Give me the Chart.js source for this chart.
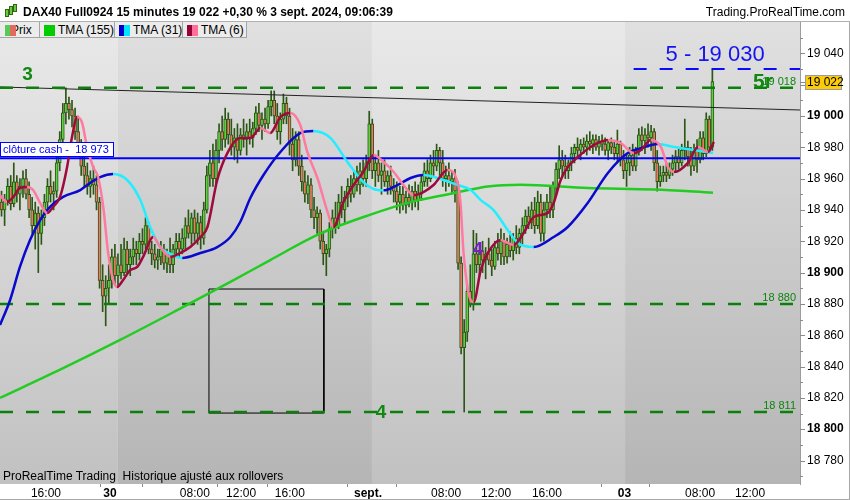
<!DOCTYPE html>
<html>
<head>
<meta charset="utf-8">
<script src="https://cdn.jsdelivr.net/npm/chart.js@4.4.1/dist/chart.umd.min.js"></script>
<style>
  body { margin: 0; background: #fff; font-family: Arial, "Liberation Sans", sans-serif; }
  #cadre { position: relative; width: 850px; height: 500px; overflow: hidden; }
  #graphique { position: absolute; left: 0; top: 0; }
  #entete { position: absolute; left: 0; top: 0; width: 850px; height: 21px; background: #fff;
            border-bottom: 1px solid #b0b0b0; font-size: 12px; line-height: 24px; }
  #titre { position: absolute; left: 23px; top: 0; font-weight: bold; color: #000; white-space: nowrap; }
  #site { position: absolute; right: 5px; top: 0; color: #000; }
  #icone span { position: absolute; width: 2px; background: #66cc44; border: 1px solid #336611; }
  .case { position: absolute; top: 22px; height: 15px; background: #ececec; border-right: 1px solid #a4a4a4;
          border-bottom: 1px solid #a4a4a4; font-size: 12px; line-height: 16px; color: #000;
          white-space: nowrap; overflow: hidden; }
  .case .nom { position: absolute; top: 0; }
  .case .pastille { position: absolute; top: 3px; width: 11px; height: 11px; }
  #source { position: absolute; left: 3px; top: 469px; font-size: 12px; line-height: 14px; color: #000; white-space: nowrap; }
</style>
</head>
<body>
<div id="cadre">
  <canvas id="graphique" width="850" height="500"></canvas>
  <div id="entete">
    <div id="icone">
      <span style="left:5px;top:9px;height:6px"></span>
      <span style="left:9px;top:6px;height:7px"></span>
      <span style="left:13px;top:4px;height:6px"></span>
    </div>
    <div id="titre">DAX40 Full0924 15 minutes 19 022 +0,30 % 3 sept. 2024, 09:06:39</div>
    <div id="site">Trading.ProRealTime.com</div>
  </div>
  <div class="case" style="left:0;width:39px">
    <span class="nom" style="left:11px">Prix</span>
    <span class="pastille" style="left:5px;background:linear-gradient(90deg,#55cc55 50%,#e36a5e 50%)"></span>
  </div>
  <div class="case" style="left:40px;width:74px">
    <span class="pastille" style="left:4px;background:#00cc00"></span>
    <span class="nom" style="left:18px">TMA (155)</span>
  </div>
  <div class="case" style="left:115px;width:67px">
    <span class="pastille" style="left:4px;background:linear-gradient(90deg,#0000cc 50%,#00e5ff 50%)"></span>
    <span class="nom" style="left:18px">TMA (31)</span>
  </div>
  <div class="case" style="left:183px;width:63px">
    <span class="pastille" style="left:4px;background:linear-gradient(90deg,#990033 50%,#ff6f9a 50%)"></span>
    <span class="nom" style="left:18px">TMA (6)</span>
  </div>
  <div id="source">ProRealTime Trading&nbsp; Historique ajusté aux rollovers</div>
</div>

<script>
// Bougies 15 minutes du DAX40
const ouvertures = [
  18945,18940,18946,18955,18944,18958,18950,18955,18960,18950,
  18940,18930,18938,18925,18935,18945,18955,18950,18952,18970,
  18985,19002,19008,19004,19000,18990,18980,18968,18962,18955,
  18960,18956,18945,18895,18885,18890,18895,18910,18898,18905,
  18900,18915,18905,18910,18915,18912,18920,18918,18930,18915,
  18912,18908,18910,18915,18906,18912,18905,18915,18920,18915,
  18922,18930,18925,18935,18925,18932,18922,18940,18962,18970,
  18960,18978,18990,18985,18998,18988,18980,18986,18978,18988,
  18985,18990,18986,18992,19002,18994,18998,18995,19006,19010,
  19000,18990,18998,19008,19000,18982,18972,18985,18968,18958,
  18950,18956,18940,18935,18938,18920,18912,18915,18928,18935,
  18930,18945,18940,18948,18955,18950,18960,18956,18965,18960,
  18970,18995,18965,18970,18962,18965,18958,18962,18955,18952,
  18945,18950,18943,18948,18945,18952,18946,18950,18958,18965,
  18960,18970,18968,18978,18970,18960,18962,18958,18960,18952,
  18906,18852,18862,18888,18880,18912,18905,18914,18908,18912,
  18908,18904,18916,18912,18920,18910,18918,18914,18922,18916,
  18925,18930,18936,18932,18940,18930,18945,18925,18940,18945,
  18940,18955,18966,18972,18968,18965,18970,18976,18980,18978,
  18982,18980,18984,18982,18985,18980,18984,18982,18978,18983,
  18980,18976,18982,18972,18965,18970,18975,18968,18978,18988,
  18984,18988,18986,18990,18970,18958,18962,18964,18962,18966,
  18970,18974,18970,18978,18980,18974,18968,18978,18972,18986,
  18976,18998,18980
];
const plusHauts = [
  18952,18950,18960,18962,18970,18962,18960,18965,18966,18958,
  18948,18945,18942,18940,18950,18960,18965,18958,18975,18990,
  19008,19018,19012,19010,19005,19000,18985,18975,18970,18965,
  18968,18962,18948,18905,18898,18905,18915,18918,18912,18918,
  18922,18920,18915,18922,18920,18925,18928,18935,18932,18920,
  18918,18915,18920,18918,18915,18922,18918,18925,18925,18928,
  18935,18940,18938,18940,18938,18936,18945,18968,18978,18982,
  18985,18995,19000,19005,19002,18998,18992,18995,18992,18998,
  18995,18998,18996,19006,19008,19002,19005,19010,19016,19016,
  19008,19002,19014,19012,19005,18992,18990,18990,18975,18965,
  18962,18960,18948,18942,18940,18925,18918,18932,18940,18945,
  18950,18955,18952,18960,18962,18965,18968,18970,18972,18975,
  19003,18998,18975,18978,18970,18972,18965,18968,18960,18958,
  18955,18955,18952,18956,18955,18958,18956,18962,18970,18972,
  18975,18978,18982,18980,18978,18968,18970,18965,18966,18958,
  18910,18870,18892,18905,18927,18925,18918,18920,18916,18922,
  18915,18920,18925,18928,18925,18922,18926,18925,18930,18928,
  18935,18940,18942,18945,18948,18952,18950,18945,18950,18955,
  18958,18970,18981,18978,18975,18972,18980,18982,18986,18985,
  18986,18988,18990,18988,18988,18987,18988,18986,18985,18986,
  18984,18991,18984,18978,18975,18980,18982,18980,18992,18993,
  18992,18995,18994,18992,18978,18968,18968,18970,18970,18975,
  18978,18980,18982,18998,18984,18980,18982,18985,18990,18990,
  19002,19000,19030
];
const plusBas = [
  18936,18930,18943,18940,18942,18945,18940,18948,18947,18935,
  18925,18915,18900,18918,18930,18940,18945,18940,18948,18965,
  18980,18995,18998,18993,18985,18975,18962,18955,18950,18948,
  18950,18940,18890,18875,18866,18880,18890,18892,18892,18896,
  18898,18900,18898,18905,18905,18908,18912,18915,18912,18905,
  18903,18902,18905,18902,18900,18900,18900,18910,18910,18912,
  18915,18922,18918,18920,18918,18915,18918,18938,18955,18955,
  18955,18970,18978,18980,18982,18975,18972,18970,18975,18980,
  18975,18982,18980,18988,18990,18985,18990,18992,19000,18995,
  18985,18982,18995,18995,18975,18965,18968,18962,18952,18945,
  18944,18935,18928,18925,18915,18905,18898,18910,18922,18925,
  18928,18935,18932,18942,18945,18948,18952,18950,18955,18955,
  18965,18960,18955,18958,18950,18955,18950,18950,18945,18940,
  18938,18940,18938,18942,18940,18942,18940,18946,18955,18955,
  18958,18962,18965,18962,18955,18952,18955,18950,18945,18902,
  18848,18811,18856,18878,18876,18900,18898,18900,18896,18905,
  18898,18902,18908,18905,18905,18906,18910,18908,18912,18912,
  18918,18925,18928,18928,18925,18928,18920,18920,18935,18935,
  18935,18950,18960,18962,18960,18960,18965,18970,18974,18972,
  18976,18975,18978,18976,18978,18975,18978,18975,18972,18976,
  18972,18970,18968,18960,18955,18962,18965,18965,18975,18978,
  18976,18980,18978,18965,18952,18955,18958,18958,18960,18962,
  18964,18966,18968,18972,18968,18962,18965,18964,18970,18972,
  18974,18978,18978
];
const clotures = [
  18940,18946,18955,18944,18958,18950,18955,18960,18950,18940,
  18930,18938,18925,18935,18945,18955,18950,18952,18970,18985,
  19002,19008,19004,19000,18990,18980,18968,18962,18955,18960,
  18956,18945,18895,18885,18890,18895,18910,18898,18905,18900,
  18915,18905,18910,18915,18912,18920,18918,18930,18915,18912,
  18908,18910,18915,18906,18912,18905,18915,18920,18915,18922,
  18930,18925,18935,18925,18932,18922,18940,18962,18970,18960,
  18978,18990,18985,18998,18988,18980,18986,18978,18988,18985,
  18990,18986,18992,19002,18994,18998,18995,19006,19010,19000,
  18990,18998,19008,19000,18982,18972,18985,18968,18958,18950,
  18956,18940,18935,18938,18920,18912,18915,18928,18935,18930,
  18945,18940,18948,18955,18950,18960,18956,18965,18960,18970,
  18995,18965,18970,18962,18965,18958,18962,18955,18952,18945,
  18950,18943,18948,18945,18952,18946,18950,18958,18965,18960,
  18970,18968,18978,18970,18960,18962,18958,18960,18952,18906,
  18852,18862,18888,18880,18912,18905,18914,18908,18912,18908,
  18904,18916,18912,18920,18910,18918,18914,18922,18916,18925,
  18930,18936,18932,18940,18930,18945,18925,18940,18945,18940,
  18955,18966,18972,18968,18965,18970,18976,18980,18978,18982,
  18980,18984,18982,18985,18980,18984,18982,18978,18983,18980,
  18976,18982,18972,18965,18970,18975,18968,18978,18988,18984,
  18988,18986,18990,18970,18958,18962,18964,18962,18966,18970,
  18974,18970,18978,18980,18974,18968,18978,18972,18986,18976,
  18998,18980,19022
];

// Moyennes mobiles triangulaires (abscisse = n° de bougie)
const tma155Barres  = [-0.5, 19.1, 38.7, 58.3, 74.7, 87.7, 104.1, 120.4, 133.5, 143.3, 153.1, 158.7, 169.4, 191.3, 212.9, 232.2];
const tma155Valeurs = [18820, 18838, 18857, 18877, 18894, 18908, 18925, 18937, 18945, 18949, 18953, 18955, 18956, 18954, 18953, 18951];

const tma31Barres = [-0.5, 2.8, 6.0, 9.3, 12.6, 15.8, 20.1, 25.7, 28.9, 32.2, 36.4, 41.0, 45.3, 48.5, 51.8, 56.0, 59.0,
  64.9, 70.4, 74.7, 77.9, 81.2, 85.5, 91.0, 97.5, 101.8, 107.4, 112.9, 118.1, 122.7, 124.7, 129.2, 133.5, 137.7,
  142.3, 148.9, 153.1, 156.4, 160.6, 165.2, 168.5, 173.7, 180.2, 184.8, 191.3, 197.9, 204.4, 208.7, 214.2, 219.5, 226.0, 232.2];
const tma31Valeurs = [18866.5, 18882.5, 18903.6, 18920.8, 18933.5, 18941.9, 18948.3, 18952.7, 18957.2, 18961.0, 18962.9,
  18959.1, 18946.3, 18929.1, 18916.3, 18911.2, 18909.3, 18912.5, 18916.3, 18922.7, 18932.3, 18947.6, 18962.3, 18977.0,
  18989.1, 18990.4, 18985.9, 18970.6, 18957.8, 18952.7, 18952.5, 18955.9, 18960.4, 18962.3, 18960.4, 18955.9, 18952.7,
  18946.3, 18939.9, 18927.2, 18918.9, 18916.3, 18922.7, 18929.1, 18944.4, 18963.6, 18976.3, 18979.5, 18982.1, 18980.2,
  18978.3, 18976.3];

const tma6Barres = [-0.5, 1.8, 3.8, 6.0, 8.3, 10.3, 12.6, 14.9, 16.8, 19.1, 21.4, 23.0, 24.7, 26.3, 27.9, 29.9, 31.5,
  33.2, 34.8, 36.4, 37.7, 39.7, 42.0, 44.3, 46.2, 49.5, 51.8, 55.1, 58.3, 61.6, 64.9, 67.2, 70.4, 73.7, 77.9, 81.2,
  84.5, 87.7, 91.0, 94.3, 97.5, 99.8, 103.1, 106.4, 108.3, 111.6, 114.9, 118.1, 121.4, 124.7, 128.0, 131.2, 134.5,
  137.7, 141.0, 145.6, 148.9, 149.8, 150.8, 153.1, 154.1, 156.4, 158.7, 162.9, 165.2, 167.2, 170.4, 173.7, 178.3,
  180.2, 182.5, 184.8, 188.1, 192.3, 197.9, 202.1, 206.4, 208.7, 211.9, 215.2, 217.5, 219.5, 224.0, 227.3, 230.6, 232.5];
const tma6Valeurs = [18949.5, 18945.0, 18948.2, 18954.0, 18954.6, 18952.7, 18944.4, 18938.0, 18941.9, 18948.3, 18967.4,
  18986.6, 18999.3, 18995.5, 18980.2, 18967.4, 18961.0, 18941.9, 18912.5, 18895.3, 18890.8, 18895.3, 18901.6, 18903.6,
  18910.0, 18922.7, 18916.3, 18910.0, 18912.5, 18916.3, 18922.7, 18929.1, 18959.1, 18976.3, 18985.9, 18985.9, 18992.3,
  18989.1, 18999.3, 19001.9, 18994.2, 18977.0, 18960.4, 18938.7, 18929.1, 18945.1, 18955.9, 18964.2, 18975.1, 18970.6,
  18964.2, 18955.9, 18949.5, 18951.4, 18955.9, 18965.5, 18957.2, 18944.4, 18912.5, 18882.5, 18881.2, 18901.6, 18912.5,
  18920.8, 18918.9, 18917.6, 18925.3, 18935.5, 18938.1, 18944.4, 18959.1, 18967.4, 18973.8, 18980.2, 18984.6, 18982.7,
  18976.3, 18978.3, 18984.6, 18980.2, 18967.4, 18964.2, 18970.0, 18980.2, 18977.0, 18983.4];

// Niveaux tracés
const niveauxVerts = [19018, 18880, 18811];
const etiquettesNiveaux = ['19 018', '18 880', '18 811'];
const clotureCash = 18973;
const objectif5 = 19030;
const oblique = [19018.5, 19003.8];         // valeurs au bord gauche et au bord droit
const rectangle = [67.7, 105.2, 18810.3, 18889.5]; // barre début, barre fin, bas, haut

// Axes
const positionsHeures = [14.5, 35.4, 63.1, 78.2, 94.1, 119.6, 145.1, 161.4, 178.0, 203.3, 228.0, 244.3];
const etiquettesHeures = ['16:00', '30', '08:00', '12:00', '16:00', 'sept.', '08:00', '12:00', '16:00', '03', '08:00', '12:00'];
const debutsJours = [38.0, 120.9, 203.5];
const graduationsY = [18780, 18800, 18820, 18840, 18860, 18880, 18900, 18920, 18940, 18960, 18980, 19000, 19040];
const petitsTraitsX = [32.2, 45.9, 70.4, 86.8, 112.9, 128.6, 195.6, 211.3];

const X_MIN = -0.5, X_MAX = 260.6;
const VERT_HAUSSE = '#5fd045', ROUGE_BAISSE = '#ee7a66', CONTOUR = '#2c5614';

function formatPrix(v) {
  return String(Math.round(v)).replace(/\B(?=(\d{3})+(?!\d))/g, ' ');
}

const indices = clotures.map((_, i) => i);

// Fonction pour une moyenne mobile bicolore (hausse / baisse)
function ligneMM(barres, valeurs, hausse, baisse, ordre) {
  return {
    type: 'line',
    data: barres.map((b, i) => ({ x: b, y: valeurs[i] })),
    borderColor: hausse,
    borderWidth: 2.5,
    pointRadius: 0,
    cubicInterpolationMode: 'monotone',
    segment: {
      borderColor: c => (c.p1.parsed.y >= c.p0.parsed.y ? hausse : baisse)
    },
    order: ordre
  };
}

function ligneH(x0, x1, v0, v1, couleur, largeur, tirets, ordre) {
  return {
    type: 'line',
    data: [{ x: x0, y: v0 }, { x: x1, y: v1 }],
    borderColor: couleur,
    borderWidth: largeur,
    borderDash: tirets,
    pointRadius: 0,
    tension: 0,
    order: ordre
  };
}

// Fond gris dégradé, un ton par journée
const fondJours = {
  id: 'fondJours',
  beforeDraw(chart) {
    const { ctx, chartArea: a, scales: { x } } = chart;
    const bornes = [X_MIN, ...debutsJours, X_MAX];
    ctx.save();
    for (let k = 0; k < bornes.length - 1; k++) {
      const x0 = x.getPixelForValue(bornes[k]);
      const x1 = x.getPixelForValue(bornes[k + 1]);
      const g = ctx.createLinearGradient(0, a.top, 0, a.bottom);
      if (k % 2 === 0) { g.addColorStop(0, '#e9e9e9'); g.addColorStop(1, '#c1c1c1'); }
      else { g.addColorStop(0, '#e0e0e0'); g.addColorStop(1, '#b5b5b5'); }
      ctx.fillStyle = g;
      ctx.fillRect(x0, a.top, x1 - x0, a.bottom - a.top);
    }
    ctx.restore();
  }
};

// Textes et repères posés sur le graphique
const reperes = {
  id: 'reperes',
  afterDatasetsDraw(chart) {
    const { ctx, chartArea: a, scales: { x, y } } = chart;
    ctx.save();

    // étiquettes des niveaux verts
    ctx.font = '11px Arial, "Liberation Sans"';
    ctx.fillStyle = '#0c860c';
    ctx.textAlign = 'right';
    ctx.textBaseline = 'alphabetic';
    niveauxVerts.forEach((v, i) => ctx.fillText(etiquettesNiveaux[i], a.right - 4, y.getPixelForValue(v) - 3));

    // comptage des vagues
    ctx.textAlign = 'center';
    ctx.textBaseline = 'middle';
    ctx.font = 'bold 19px Arial, "Liberation Sans"';
    ctx.fillStyle = '#118811';
    ctx.fillText('3', x.getPixelForValue(8.5), y.getPixelForValue(19026.5));
    ctx.fillText('4', x.getPixelForValue(123.9), y.getPixelForValue(18810.3));
    ctx.font = 'bold 21px Arial, "Liberation Sans"';
    ctx.fillText('5r', x.getPixelForValue(248.5), y.getPixelForValue(19021.7));
    ctx.font = 'bold 18px Arial, "Liberation Sans"';
    ctx.fillStyle = '#7a1ec8';
    ctx.fillText('4', x.getPixelForValue(155.5), y.getPixelForValue(18914.4));

    // objectif 5
    ctx.font = '22px Arial, "Liberation Sans"';
    ctx.fillStyle = '#1414f0';
    ctx.fillText('5 - ' + formatPrix(objectif5), x.getPixelForValue(232.9), y.getPixelForValue(19039));

    // cadre « clôture cash »
    const yc = Math.round(y.getPixelForValue(clotureCash));
    ctx.fillStyle = '#fff';
    ctx.fillRect(0, yc - 15, 113, 14);
    ctx.strokeStyle = '#0000ff';
    ctx.lineWidth = 1;
    ctx.strokeRect(0.5, yc - 15.5, 113, 14);
    ctx.font = '11px Arial, "Liberation Sans"';
    ctx.fillStyle = '#0000ff';
    ctx.textAlign = 'left';
    ctx.fillText('clôture cash -  ' + formatPrix(clotureCash), 3, yc - 8);
    ctx.restore();
  },
  afterDraw(chart) {
    const { ctx, chartArea: a, scales: { x, y } } = chart;
    ctx.save();
    ctx.strokeStyle = '#8a8a8a';
    ctx.lineWidth = 1;
    // petits traits de l'axe des prix
    for (let v = 18770; v <= 19050; v += 10) {
      const py = Math.round(y.getPixelForValue(v)) + 0.5;
      const l = v % 20 === 0 ? 5 : 3;
      ctx.beginPath(); ctx.moveTo(a.right, py); ctx.lineTo(a.right + l, py); ctx.stroke();
    }
    // petits traits de l'axe du temps
    petitsTraitsX.forEach(b => {
      const px = Math.round(x.getPixelForValue(b)) + 0.5;
      ctx.beginPath(); ctx.moveTo(px, a.bottom); ctx.lineTo(px, a.bottom + 3); ctx.stroke();
    });
    // dernier cours
    const dernier = clotures[clotures.length - 1];
    const yd = Math.round(y.getPixelForValue(dernier));
    ctx.beginPath(); ctx.moveTo(a.right, yd + 0.5); ctx.lineTo(a.right + 5, yd + 0.5); ctx.stroke();
    ctx.fillStyle = '#fccc0a';
    ctx.fillRect(a.right + 5, yd - 7, 36, 14);
    ctx.strokeStyle = '#9a9a9a';
    ctx.strokeRect(a.right + 5.5, yd - 6.5, 36, 14);
    ctx.fillStyle = '#000';
    ctx.font = '12px Arial, "Liberation Sans"';
    ctx.textBaseline = 'middle';
    ctx.fillText(formatPrix(dernier), a.right + 7, yd + 1);
    // bordures extérieures
    ctx.strokeStyle = '#a8a8a8';
    ctx.beginPath(); ctx.moveTo(0, 499.5); ctx.lineTo(850, 499.5); ctx.stroke();
    ctx.beginPath(); ctx.moveTo(849.5, 22); ctx.lineTo(849.5, 500); ctx.stroke();
    ctx.restore();
  }
};

Chart.defaults.font.family = 'Arial, "Liberation Sans", sans-serif';
Chart.defaults.font.size = 12;
Chart.defaults.color = '#000';

const ctx = document.getElementById('graphique').getContext('2d');
window.myChart = new Chart(ctx, {
  type: 'bar',
  data: {
    datasets: [
      // mèches
      {
        data: indices.map(i => ({ x: i, y: [plusBas[i], plusHauts[i]] })),
        backgroundColor: CONTOUR,
        barThickness: 1,
        grouped: false,
        order: 20
      },
      // corps
      {
        data: indices.map(i => ({ x: i, y: [ouvertures[i], clotures[i]] })),
        backgroundColor: indices.map(i => (clotures[i] >= ouvertures[i] ? VERT_HAUSSE : ROUGE_BAISSE)),
        borderColor: CONTOUR,
        borderWidth: 1,
        borderSkipped: false,
        barThickness: 3,
        grouped: false,
        order: 19
      },
      // rectangle
      {
        type: 'line',
        data: [
          { x: rectangle[0], y: rectangle[3] }, { x: rectangle[1], y: rectangle[3] },
          { x: rectangle[1], y: rectangle[2] }, { x: rectangle[0], y: rectangle[2] },
          { x: rectangle[0], y: rectangle[3] }
        ],
        borderColor: '#000',
        borderWidth: 1,
        pointRadius: 0,
        tension: 0,
        order: 15
      },
      ligneH(X_MIN, X_MAX, oblique[0], oblique[1], '#222', 1, [], 14),
      ligneH(X_MIN, X_MAX, niveauxVerts[0], niveauxVerts[0], '#0c800c', 2.5, [13, 13], 13),
      ligneH(X_MIN, X_MAX, niveauxVerts[1], niveauxVerts[1], '#0c800c', 2.5, [13, 13], 13),
      ligneH(X_MIN, X_MAX, niveauxVerts[2], niveauxVerts[2], '#0c800c', 2.5, [13, 13], 13),
      ligneH(X_MIN, X_MAX, clotureCash, clotureCash, '#0000ff', 2, [], 12),
      ligneH(206.3, X_MAX, objectif5, objectif5, '#0a0aff', 2, [13, 13], 12),
      ligneMM(tma155Barres, tma155Valeurs, '#22cc22', '#22cc22', 5),
      ligneMM(tma31Barres, tma31Valeurs, '#0a0acc', '#22eeff', 4),
      ligneMM(tma6Barres, tma6Valeurs, '#9e0a3c', '#ff7aa0', 3)
    ]
  },
  options: {
    responsive: false,
    animation: false,
    layout: { padding: { top: 22, left: 0, right: 0, bottom: 0 } },
    plugins: { legend: { display: false }, tooltip: { enabled: false } },
    scales: {
      x: {
        type: 'linear',
        min: X_MIN,
        max: X_MAX,
        offset: false,
        grid: { display: false, drawTicks: false },
        border: { display: false },
        afterBuildTicks: s => { s.ticks = positionsHeures.map(v => ({ value: v })); },
        afterFit: s => { s.height = 16; },
        ticks: {
          autoSkip: false,
          maxRotation: 0,
          padding: 2,
          color: '#000',
          font: c => ({ size: 12, weight: etiquettesHeures[c.index] && etiquettesHeures[c.index].includes(':') ? 'normal' : 'bold' }),
          callback: (v, i) => etiquettesHeures[i]
        }
      },
      y: {
        position: 'right',
        min: 18765,
        max: 19060,
        grid: { display: false, drawTicks: false },
        border: { display: true, color: '#9c9c9c' },
        afterBuildTicks: s => { s.ticks = graduationsY.map(v => ({ value: v })); },
        afterFit: s => { s.width = 50; },
        ticks: {
          padding: 7,
          color: '#000',
          font: c => ({ size: 12, weight: c.tick && c.tick.value % 100 === 0 ? 'bold' : 'normal' }),
          callback: v => formatPrix(v)
        }
      }
    }
  },
  plugins: [fondJours, reperes]
});
</script>
</body>
</html>
